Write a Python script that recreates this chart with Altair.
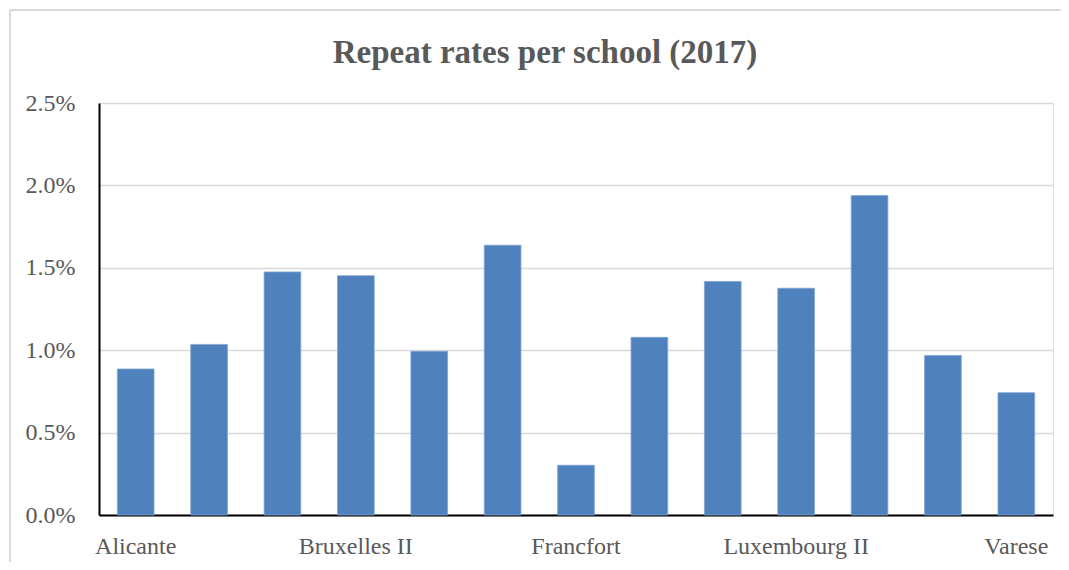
import altair as alt
import pandas as pd

schools = ["Alicante", "Bergen", "Bruxelles I", "Bruxelles II", "Bruxelles III",
           "Bruxelles IV", "Francfort", "Karlsruhe", "Luxembourg I", "Luxembourg II",
           "Mol", "Munich", "Varese"]
rates = [0.00886, 0.01035, 0.01475, 0.01452, 0.00993, 0.01637, 0.00302,
         0.01078, 0.01417, 0.01376, 0.01938, 0.00968, 0.00742]
shown_labels = ["Alicante", "Bruxelles II", "Francfort", "Luxembourg II", "Varese"]
y_ticks = [0, 0.005, 0.01, 0.015, 0.02, 0.025]

df = pd.DataFrame({"school": schools, "rate": rates})

FONT = "Liberation Serif"
GREY = "#595959"

label_list = "[" + ",".join("'" + s + "'" for s in shown_labels) + "]"

bars = alt.Chart(df).mark_bar(color="#4f81bd", stroke="#7fa3d3", strokeWidth=0.8).encode(
    x=alt.X("school:N", sort=None, title=None,
            scale=alt.Scale(paddingInner=0.5, paddingOuter=0.25),
            axis=alt.Axis(labelAngle=0, ticks=False, domain=True, domainColor="#000000",
                          domainWidth=2, labelPadding=19, labelFontSize=24,
                          labelFont=FONT, labelColor=GREY,
                          labelExpr="indexof(" + label_list + ", datum.value) >= 0 ? datum.label : ''")),
    y=alt.Y("rate:Q", title=None,
            scale=alt.Scale(domain=[0, 0.025], nice=False),
            axis=alt.Axis(values=y_ticks, format=".1%", ticks=False, domainColor="#000000",
                          domainWidth=2, gridColor="#d9d9d9", gridWidth=1.5,
                          labelPadding=24, labelFontSize=24, labelFont=FONT,
                          labelColor=GREY)),
)

border_top = alt.Chart(df).mark_rule(color="#d9d9d9", strokeWidth=1.5).encode(
    x=alt.value(-89), x2=alt.value(980), y=alt.value(-93))
border_left = alt.Chart(df).mark_rule(color="#d9d9d9", strokeWidth=1.5).encode(
    x=alt.value(-89), y=alt.value(-93), y2=alt.value(470))

chart = alt.layer(border_top, border_left, bars).properties(
    width=954, height=412,
    title=alt.TitleParams("Repeat rates per school (2017)", font=FONT, fontSize=33,
                          fontWeight="bold", color=GREY, offset=-61, dx=-31,
                          anchor="middle", frame="group"),
    autosize=alt.AutoSizeParams(type="none"),
    padding={"left": 91, "top": 95, "right": 8, "bottom": 47},
).configure_view(stroke=None).configure(background="white")

chart.save("out.html", embed_options={"renderer": "svg", "actions": False})
